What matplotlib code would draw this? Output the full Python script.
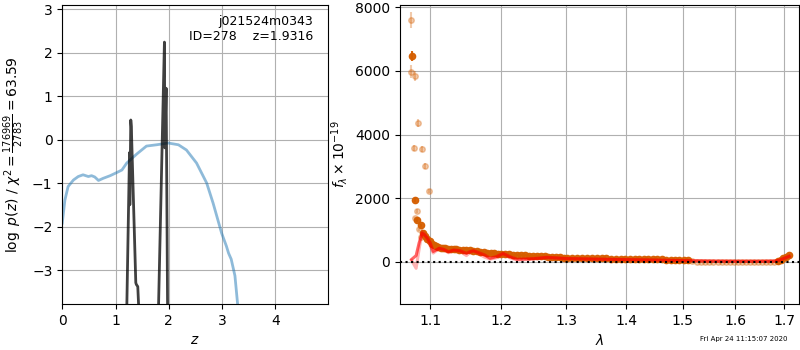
import matplotlib
matplotlib.use('Agg')
import matplotlib.pyplot as plt
from matplotlib.ticker import NullLocator

# left panel: redshift curves
z_chi2 = [0.0, 0.05, 0.11, 0.21, 0.30, 0.39, 0.49, 0.55, 0.61, 0.68, 0.77, 0.90,
          1.02, 1.12, 1.21, 1.40, 1.58, 1.77, 1.99, 2.18, 2.33, 2.52, 2.71, 2.83,
          2.99, 3.08, 3.12, 3.17, 3.24, 3.29, 3.33]
logp_chi2 = [-1.92, -1.39, -1.08, -0.93, -0.85, -0.81, -0.85, -0.83, -0.86, -0.94,
             -0.89, -0.83, -0.76, -0.70, -0.54, -0.33, -0.15, -0.12, -0.08, -0.12,
             -0.24, -0.54, -1.00, -1.46, -2.15, -2.45, -2.61, -2.75, -3.13, -3.78,
             -4.5]

z_pdf = [1.15, 1.205, 1.262, 1.268, 1.286, 1.296, 1.380, 1.390, 1.417, 1.455,
         1.50, 1.75, 1.80, 1.898, 1.917, 1.925, 1.949, 1.978, 2.03]
logp_pdf = [-9.0, -4.3, -0.30, -1.5, 0.45, 0.30, -3.29, -3.33, -3.38, -4.4,
            -9.0, -9.0, -4.2, 1.18, 2.24, -0.19, 1.18, -4.2, -9.0]

field = 'j021524m0343'
obj_id = 278
z_best = 1.9316
chi2_num, chi2_den = 176969, 2783
timestamp = 'Fri Apr 24 11:15:07 2020'

# right panel: spectrum, sparse points at the blue end
lam_light = [1.0742, 1.0742, 1.0798, 1.0838, 1.0785, 1.0891, 1.0928, 1.0987,
             1.0825, 1.0798, 1.0851, 1.0875]
flux_light = [7600, 5975, 5840, 4355, 3580, 3540, 3015, 2230, 1600, 1370, 1025, 780]
err_light = [250, 200, 150, 130, 80, 100, 80, 70, 60, 50, 50, 40]

lam_dark = [1.0759, 1.0798, 1.0825, 1.0870]
flux_dark = [6470, 1937, 1320, 1150]
err_dark = [150, 60, 50, 40]

# dense spectrum band
lam_band = [1.090, 1.093, 1.096, 1.099, 1.102, 1.105, 1.108, 1.111, 1.114, 1.117,
            1.120, 1.124, 1.128, 1.132, 1.136, 1.140, 1.145, 1.150, 1.155, 1.160,
            1.165, 1.170, 1.175, 1.180, 1.185, 1.190, 1.195, 1.200, 1.206, 1.212,
            1.218, 1.224, 1.230, 1.236, 1.242, 1.248, 1.254, 1.260, 1.266, 1.272,
            1.278, 1.284, 1.290, 1.296, 1.302, 1.310, 1.318, 1.326, 1.334, 1.342,
            1.350, 1.358, 1.366, 1.374, 1.382, 1.390, 1.398, 1.406, 1.414, 1.422,
            1.430, 1.438, 1.446, 1.454, 1.462, 1.470, 1.478, 1.486, 1.494, 1.502,
            1.510, 1.686, 1.692, 1.698, 1.704, 1.710]
flux_band = [900, 820, 720, 660, 580, 520, 490, 470, 450, 430,
             425, 410, 405, 400, 395, 390, 385, 380, 370, 345,
             330, 320, 300, 290, 275, 270, 260, 250, 242, 235,
             225, 220, 212, 205, 200, 195, 190, 188, 180, 170,
             160, 150, 145, 138, 135, 130, 125, 122, 120, 118,
             115, 112, 110, 108, 106, 105, 104, 100, 96, 92,
             90, 86, 84, 80, 78, 76, 75, 74, 72, 70,
             60, 40, 70, 110, 170, 220]
band_err = 30

lam_faint = [1.518, 1.526, 1.534, 1.542, 1.550, 1.558, 1.566, 1.574, 1.582, 1.590,
             1.598, 1.606, 1.614, 1.622, 1.630, 1.638, 1.646, 1.654, 1.662, 1.670,
             1.678]
flux_faint = [30, 15, 5, 0, -5, -5, -8, -8, -10, -10,
              -10, -10, -10, -10, -8, -8, -8, -6, -5, -5, 0]

# model lines
lam_model = [1.075, 1.081, 1.085, 1.089, 1.092, 1.096, 1.100, 1.104, 1.108, 1.112,
             1.118, 1.125, 1.132, 1.141, 1.150, 1.155, 1.160, 1.167, 1.176, 1.184,
             1.193, 1.203, 1.213, 1.224, 1.249, 1.270, 1.300, 1.350, 1.400, 1.450,
             1.500, 1.550, 1.600, 1.650, 1.680, 1.690, 1.700, 1.710]
flux_model = [80, 200, 600, 900, 850, 760, 600, 330, 380, 430,
              400, 325, 377, 355, 273, 325, 355, 300, 220, 115,
              167, 273, 167, 85, 105, 147, 110, 90, 75, 60,
              45, 30, 25, 25, 30, 60, 120, 180]
flux_model2 = [50, -200, 400, 950, 900, 700, 500, 280, 350, 420,
               380, 290, 360, 330, 200, 300, 340, 260, 150, 90,
               130, 250, 130, 60, 90, 130, 100, 85, 70, 55,
               40, 25, 20, 20, 25, 50, 110, 170]

lam_ticks = [1.1, 1.2, 1.3, 1.4, 1.5, 1.6, 1.7]

spec_color = '#d55e00'

fig = plt.figure(figsize=(8, 3.5), dpi=100)
ax1 = fig.add_axes([0.0778, 0.1314, 0.3318, 0.8552])
ax2 = fig.add_axes([0.5, 0.1314, 0.4988, 0.8552])

# redshift panel
ax1.plot(z_chi2, logp_chi2, color='C0', alpha=0.5, lw=2)
ax1.plot(z_pdf, logp_pdf, color='k', alpha=0.75, lw=2)
ax1.set_xlim(0, 4.98)
ax1.set_ylim(-3.78, 3.1)
ax1.set_xticks([0, 1, 2, 3, 4])
ax1.set_xlabel(r'$z$')
ax1.set_ylabel(r'$\log\ p(z)$ / $\chi^2=\frac{%d}{%d}=%.2f$'
               % (chi2_num, chi2_den, chi2_num / chi2_den))
ax1.text(0.946, 0.965, '%s\nID=%d    z=%.4f' % (field, obj_id, z_best),
         ha='right', va='top', fontsize=9, transform=ax1.transAxes)
ax1.grid()

# spectrum panel
ax2.errorbar(lam_light, flux_light, yerr=err_light, fmt='o', ms=4,
             color=spec_color, alpha=0.33, lw=1.5, zorder=2)
ax2.errorbar(lam_faint, flux_faint, yerr=band_err, fmt='o', ms=4,
             color=spec_color, alpha=0.33, lw=1.5, zorder=2)
ax2.errorbar(lam_band, flux_band, yerr=band_err, fmt='o', ms=4.5,
             color=spec_color, alpha=0.95, lw=1.5, zorder=3)
ax2.errorbar(lam_dark, flux_dark, yerr=err_dark, fmt='o', ms=4.5,
             color=spec_color, alpha=0.95, lw=1.5, zorder=3)
ax2.plot(lam_model, flux_model2, color='r', alpha=0.3, lw=2.2, zorder=4)
ax2.plot(lam_model, flux_model, color='r', alpha=0.6, lw=2.2, zorder=5)
ax2.axhline(0, color='k', linestyle=':', lw=1.5, zorder=6)

ax2.set_xscale('log')
ax2.set_xlim(1.0598, 1.731)
ax2.set_ylim(-1320, 8080)
ax2.set_xticks(lam_ticks)
ax2.set_xticklabels(['%.1f' % t for t in lam_ticks])
ax2.xaxis.set_minor_locator(NullLocator())
ax2.set_xlabel(r'$\lambda$')
ax2.set_ylabel(r'$f_\lambda\times10^{-19}$')
ax2.grid()

fig.text(0.985, 0.031, timestamp, ha='right', va='center', fontsize=5)

fig.savefig('out.png', dpi=100)
